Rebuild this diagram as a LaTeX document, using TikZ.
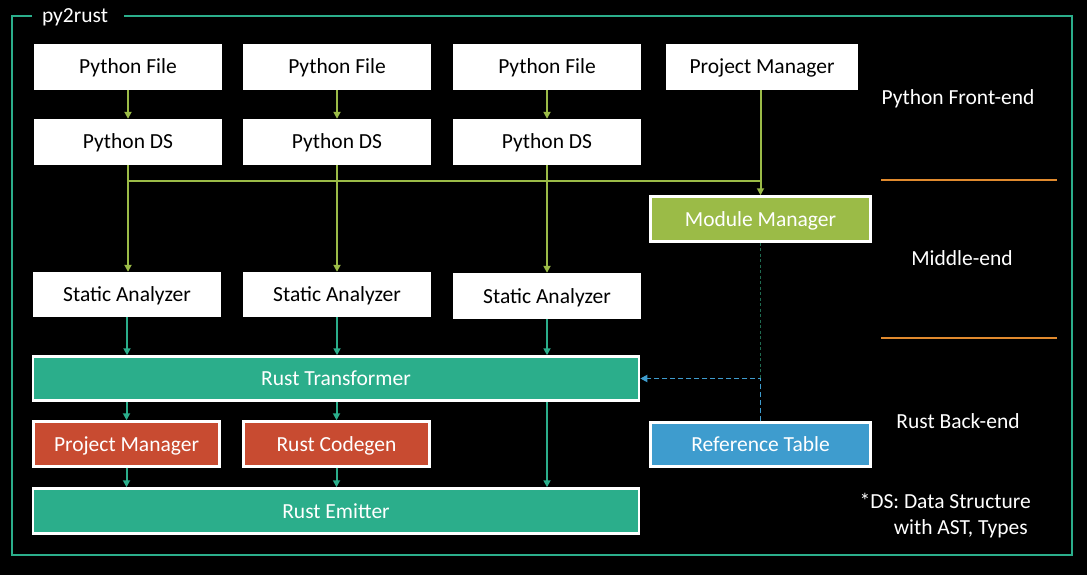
\documentclass[tikz,border=0pt]{standalone}
\usepackage{fontspec}
\setmainfont{Carlito}
\usetikzlibrary{arrows.meta}
\definecolor{pgreen}{HTML}{9BBB47}
\definecolor{pteal}{HTML}{2BAE8B}
\definecolor{pred}{HTML}{C84B31}
\definecolor{pblue}{HTML}{3E9CCE}
\definecolor{porange}{HTML}{E08A2E}
\definecolor{pdark}{HTML}{1F6A50}
\tikzset{
  lbl/.style={font=\fontsize{21.5}{26}\selectfont, inner sep=0pt, text height=14pt, text depth=0pt},
  wbox/.style={lbl, fill=white, text=black, minimum height=46pt},
  cbox/.style={lbl, draw=white, line width=2.5pt, text=white},
  garrow/.style={draw=pgreen, line width=2pt, -{Triangle[width=7pt,length=7pt]}},
  gline/.style={draw=pgreen, line width=2pt},
  tarrow/.style={draw=pteal, line width=2pt, -{Triangle[width=7pt,length=7pt]}},
  side/.style={lbl, text=white},
}
\begin{document}
\begin{tikzpicture}[x=1pt,y=-1pt]
\fill[black] (0,0) rectangle (1087,575);
\useasboundingbox (0,0) rectangle (1087,575);
% frame
\draw[pteal, line width=1.3pt] (32,16) -- (12,16) -- (12,555) -- (1072,555) -- (1072,16) -- (124,16);
\node[side] (title) at (75,16) {py2rust};
% front-end
\node[wbox, minimum width=188pt] (pf1) at (128,67) {Python File};
\node[wbox, minimum width=188pt] (pf2) at (337,67) {Python File};
\node[wbox, minimum width=188pt] (pf3) at (547,67) {Python File};
\node[wbox, minimum width=192pt] (pm) at (762,67) {Project Manager};
\node[wbox, minimum width=188pt] (ds1) at (128,142) {Python DS};
\node[wbox, minimum width=188pt] (ds2) at (337,142) {Python DS};
\node[wbox, minimum width=188pt] (ds3) at (547,142) {Python DS};
\node[cbox, fill=pgreen, minimum width=220pt, minimum height=45pt] (mm) at (760.5,219) {Module Manager};
% analyzers
\node[wbox, minimum width=188pt, minimum height=45pt] (sa1) at (127,294.5) {Static Analyzer};
\node[wbox, minimum width=188pt, minimum height=45pt] (sa2) at (337,294.5) {Static Analyzer};
\node[wbox, minimum width=188pt, minimum height=46pt] (sa3) at (547,296) {Static Analyzer};
% back-end
\node[cbox, fill=pteal, minimum width=606pt, minimum height=44pt] (rt) at (336,378.5) {Rust Transformer};
\node[cbox, fill=pred, minimum width=186pt, minimum height=45pt] (pmr) at (126.5,444) {Project Manager};
\node[cbox, fill=pred, minimum width=186pt, minimum height=45pt] (rc) at (336.5,444) {Rust Codegen};
\node[cbox, fill=pteal, minimum width=606pt, minimum height=45pt] (re) at (336,511) {Rust Emitter};
\node[cbox, fill=pblue, minimum width=220pt, minimum height=44pt] (ref) at (760.5,444.5) {Reference Table};
% front-end arrows
\draw[garrow] (pf1) -- (ds1);
\draw[garrow] (pf2) -- (ds2);
\draw[garrow] (pf3) -- (ds3);
\coordinate (bus) at (760.5,181);
\draw[gline] (ds1.south) |- (bus);
\draw[garrow] (ds1.south) -- (ds1.south |- sa1.north);
\draw[garrow] (ds2.south) -- (ds2.south |- sa2.north);
\draw[garrow] (ds3.south) -- (ds3.south |- sa3.north);
\draw[garrow] (pm.south -| mm.north) -- (mm.north);
% analyzers to transformer
\draw[tarrow] (sa1.south) -- (sa1.south |- rt.north);
\draw[tarrow] (sa2.south) -- (sa2.south |- rt.north);
\draw[tarrow] (sa3.south) -- (sa3.south |- rt.north);
% transformer down
\draw[tarrow] (rt.south -| pmr.north) -- (pmr.north);
\draw[tarrow] (rt.south -| rc.north) -- (rc.north);
\draw[tarrow] (rt.south -| sa3.south) -- (re.north -| sa3.south);
\draw[tarrow] (pmr.south) -- (pmr.south |- re.north);
\draw[tarrow] (rc.south) -- (rc.south |- re.north);
% reference links
\coordinate (junc) at (mm.south |- rt.east);
\draw[pdark, line width=1.8pt, dash pattern=on 3pt off 2.5pt] (mm.south) -- (junc);
\draw[pblue, line width=1.8pt, dash pattern=on 5pt off 3pt, -{Triangle[width=7pt,length=7pt]}] (ref.north) |- (rt.east);
% side labels
\draw[porange, line width=2pt] (881,180) -- (1057,180);
\draw[porange, line width=2pt] (881,338) -- (1057,338);
\node[side] (fe) at (958,98) {Python Front-end};
\node[side] (me) at (962,258) {Middle-end};
\node[side] (be) at (958,421) {Rust Back-end};
\node[side, anchor=east] (note1) at (1031,501) {*DS: Data Structure};
\node[side, anchor=east] (note2) at (1028,527) {with AST, Types};
\end{tikzpicture}
\end{document}
